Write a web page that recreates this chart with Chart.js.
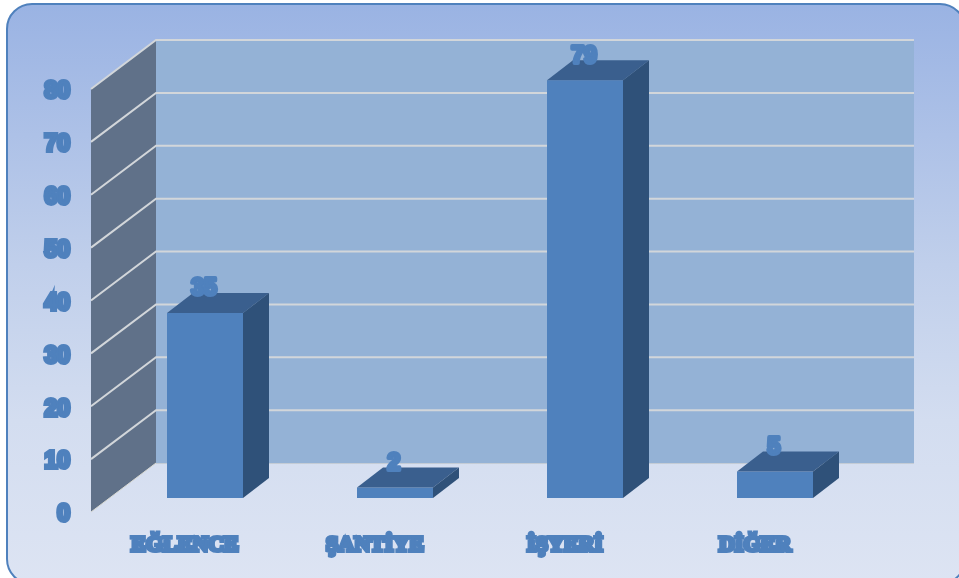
<!DOCTYPE html>
<html>
<head>
<meta charset="utf-8">
<title>Chart</title>
<script src="https://cdn.jsdelivr.net/npm/chart.js@4"></script>
<style>
    html, body { margin: 0; padding: 0; background: #fff; overflow: hidden; }
    #wrap { position: relative; width: 959px; height: 578px; overflow: hidden; }
    #card {
        position: absolute; left: 6px; top: 3px; width: 960px; height: 582px;
        box-sizing: border-box; border: 2px solid #4f81bd; border-radius: 26px;
        background: linear-gradient(180deg, #9ab3e3 0%, #c0cfeb 45%, #d3ddf0 72%, #dde4f3 100%);
    }
    #chart { position: absolute; left: 0; top: 0; }
</style>
</head>
<body>
<div id="wrap">
    <div id="card"></div>
    <canvas id="chart" width="959" height="578"></canvas>
</div>
<script>
const categories = ['EĞLENCE', 'ŞANTİYE', 'İŞYERİ', 'DİĞER'];
const values = [35, 2, 79, 5];
const yMax = 80;
const yStep = 10;

const blue = '#4f81bd';
// depth of the fake 3D box, in px
const wallDx = 46, wallDy = 35, wallRightDx = 44;
const frontDx = 19, frontDy = 14;
const barDx = 26, barDy = 20;

const fake3d = {
    id: 'fake3d',
    beforeDatasetsDraw(chart) {
        const { ctx, chartArea, scales } = chart;
        const y = scales.y;
        const left = chartArea.left, right = chartArea.right;
        const y0 = y.getPixelForValue(0), yTop = y.getPixelForValue(yMax);
        ctx.save();
        // back wall
        ctx.fillStyle = '#94b2d6';
        ctx.fillRect(left + wallDx, yTop - wallDy, right + wallRightDx - left - wallDx, y0 - yTop);
        ctx.strokeStyle = '#c4ccd6';
        ctx.lineWidth = 1;
        ctx.beginPath();
        ctx.moveTo(left + wallDx, y0 - wallDy + 0.5);
        ctx.lineTo(right + wallRightDx, y0 - wallDy + 0.5);
        ctx.stroke();
        // side wall
        ctx.fillStyle = '#607189';
        ctx.beginPath();
        ctx.moveTo(left - frontDx, y0 + frontDy);
        ctx.lineTo(left + wallDx, y0 - wallDy);
        ctx.lineTo(left + wallDx, yTop - wallDy);
        ctx.lineTo(left - frontDx, yTop + frontDy);
        ctx.closePath();
        ctx.fill();
        // grid lines on both walls
        ctx.strokeStyle = '#d2d6da';
        ctx.lineWidth = 2;
        y.ticks.forEach(t => {
            const p = y.getPixelForValue(t.value);
            if (t.value === 0) return;
            ctx.beginPath();
            ctx.moveTo(left - frontDx, p + frontDy);
            ctx.lineTo(left + wallDx, p - wallDy);
            ctx.lineTo(right + wallRightDx, p - wallDy);
            ctx.stroke();
        });
        ctx.strokeStyle = '#d8d8d0';
        ctx.lineWidth = 1;
        ctx.beginPath();
        ctx.moveTo(left - frontDx, y0 + frontDy);
        ctx.lineTo(left + wallDx, y0 - wallDy);
        ctx.stroke();
        ctx.restore();
    },
    afterDatasetsDraw(chart) {
        const { ctx } = chart;
        const bars = chart.getDatasetMeta(0).data;
        ctx.save();
        bars.forEach((bar, i) => {
            const l = bar.x - bar.width / 2, r = bar.x + bar.width / 2;
            // top face
            ctx.fillStyle = '#3a5f8e';
            ctx.beginPath();
            ctx.moveTo(l, bar.y);
            ctx.lineTo(l + barDx, bar.y - barDy);
            ctx.lineTo(r + barDx, bar.y - barDy);
            ctx.lineTo(r, bar.y);
            ctx.closePath();
            ctx.fill();
            // right face
            ctx.fillStyle = '#2f5179';
            ctx.beginPath();
            ctx.moveTo(r, bar.y);
            ctx.lineTo(r + barDx, bar.y - barDy);
            ctx.lineTo(r + barDx, bar.base - barDy);
            ctx.lineTo(r, bar.base);
            ctx.closePath();
            ctx.fill();
            // value label sits on the top face
            ctx.font = 'bold 23px "Liberation Sans"';
            ctx.textAlign = 'center';
            ctx.textBaseline = 'middle';
            ctx.lineJoin = 'round';
            ctx.lineWidth = 4;
            ctx.strokeStyle = blue;
            ctx.fillStyle = blue;
            ctx.strokeText(values[i], bar.x - 1, bar.y - 24);
            ctx.fillText(values[i], bar.x - 1, bar.y - 24);
        });
        ctx.restore();
    }
};

new Chart(document.getElementById('chart').getContext('2d'), {
    type: 'bar',
    data: {
        labels: categories,
        datasets: [{
            data: values,
            backgroundColor: blue,
            categoryPercentage: 1,
            barPercentage: 0.4
        }]
    },
    options: {
        responsive: false,
        animation: false,
        layout: { padding: { left: 0, right: 89, top: 75, bottom: 20 } },
        plugins: { legend: { display: false }, tooltip: { enabled: false }, title: { display: false } },
        scales: {
            x: {
                grid: { display: false, drawTicks: false },
                border: { display: false },
                afterFit: s => { s.height = 60; },
                ticks: {
                    color: blue,
                    font: { family: '"Liberation Serif"', weight: 'bold', size: 22 },
                    textStrokeColor: blue,
                    textStrokeWidth: 4,
                    padding: 34,
                    labelOffset: -20,
                    maxRotation: 0,
                    minRotation: 0,
                    autoSkip: false
                }
            },
            y: {
                min: 0,
                max: yMax,
                grid: { display: false, drawTicks: false },
                border: { display: false },
                afterFit: s => { s.width = 110; },
                ticks: {
                    stepSize: yStep,
                    color: blue,
                    font: { family: '"Liberation Sans"', weight: 'bold', size: 23 },
                    textStrokeColor: blue,
                    textStrokeWidth: 4,
                    padding: 40,
                    labelOffset: 17
                }
            }
        }
    },
    plugins: [fake3d]
});
</script>
</body>
</html>
